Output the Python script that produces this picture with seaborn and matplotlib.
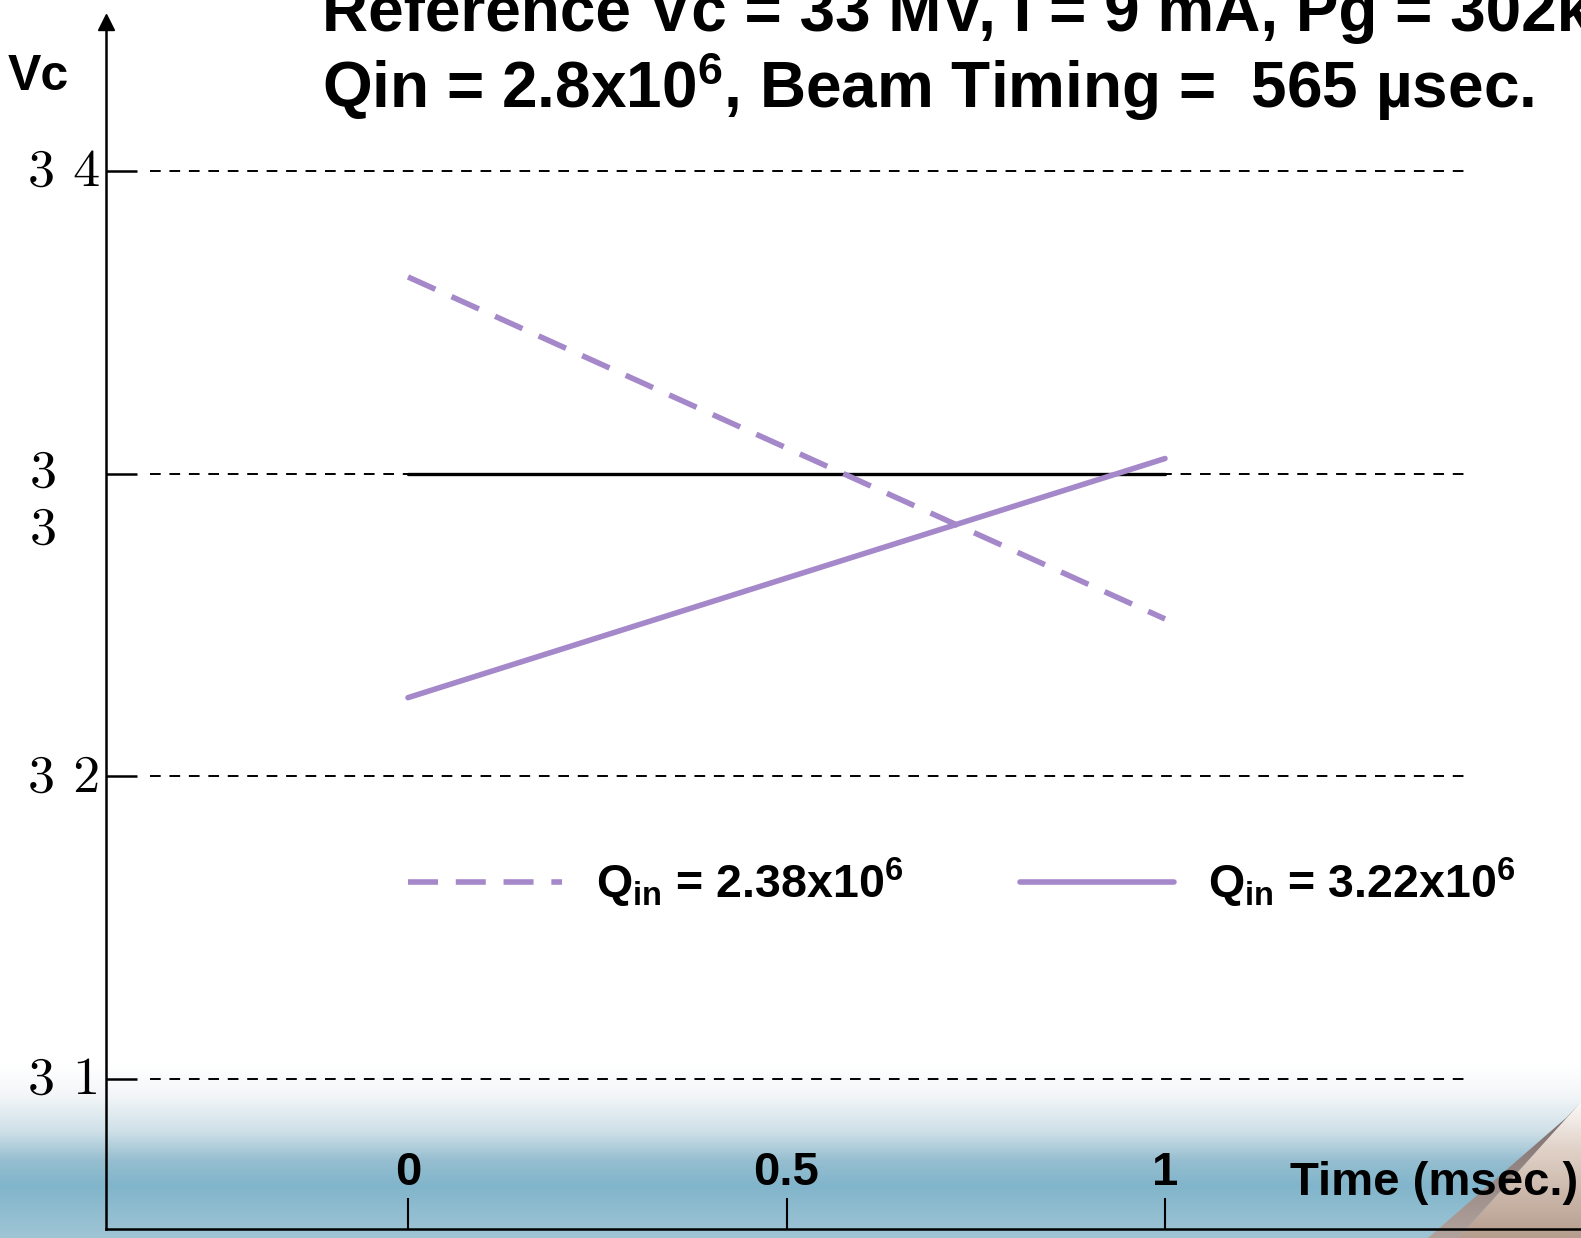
import numpy as np
import pandas as pd
import matplotlib
matplotlib.use("Agg")
import matplotlib.pyplot as plt
import seaborn as sns
from matplotlib.transforms import ScaledTranslation
from matplotlib.lines import Line2D
from matplotlib.patches import Polygon

# ---------------- data ----------------
time_ms = [0.0, 1.0]
vc_reference = [33.0, 33.0]
vc_q238 = [33.65, 32.52]
vc_q322 = [32.26, 33.05]
series_names = ["Reference", "Qin 2.38", "Qin 3.22"]
y_ticks = [31, 32, 33, 34]
y_tick_labels = ["3 1", "3 2", "3\n3", "3 4"]
x_ticks = [0, 0.5, 1]
x_tick_labels = ["0", "0.5", "1"]
legend_labels = [r"Q$_{\mathrm{in}}$ = 2.38x10$^{\mathrm{6}}$",
                 r"Q$_{\mathrm{in}}$ = 3.22x10$^{\mathrm{6}}$"]
title_line1 = "Reference Vc = 33 MV, I = 9 mA, Pg = 302kW,"
title_line2 = r"Qin = 2.8x10$^{\mathrm{6}}$, Beam Timing =  565 µsec."
y_label = "Vc"
x_label = "Time (msec.)"

sns.set_style("white")
plt.rcParams["font.family"] = ["Liberation Sans", "DejaVu Sans"]
plt.rcParams["text.color"] = "black"
plt.rcParams["mathtext.fontset"] = "custom"
plt.rcParams["mathtext.rm"] = "Liberation Sans:bold"
plt.rcParams["mathtext.it"] = "Liberation Sans:bold"
plt.rcParams["mathtext.bf"] = "Liberation Sans:bold"
plt.rcParams["mathtext.default"] = "rm"

W, H = 1581, 1238
DPI = 100
fig = plt.figure(figsize=(W / DPI, H / DPI), dpi=DPI, facecolor="white")

# ---------------- background (slide gradient + page curl) ----------------
bg = fig.add_axes([0, 0, 1, 1], zorder=-10)
bg.set_xlim(0, W)
bg.set_ylim(H, 0)
bg.axis("off")
ys = np.arange(H)
stops_y = [0, 1065, 1095, 1130, 1160, 1185, 1238]
stops_c = np.array([[255, 255, 255], [255, 255, 255], [243, 246, 248], [208, 225, 232],
                    [150, 190, 208], [129, 181, 203], [160, 197, 213]]) / 255.0
grad = np.stack([np.interp(ys, stops_y, stops_c[:, k]) for k in range(3)], axis=1)
img = np.repeat(grad[:, None, :], 2, axis=1)
bg.imshow(img, extent=[0, W, H, 0], aspect="auto", interpolation="bilinear")

# page curl
curl_y = np.linspace(0, 1, 64)
tan = np.stack([np.interp(curl_y, [0, 0.35, 1], [252, 225, 182]),
                np.interp(curl_y, [0, 0.35, 1], [250, 210, 158]),
                np.interp(curl_y, [0, 0.35, 1], [250, 200, 142])], axis=1) / 255.0
tan_img = np.repeat(tan[:, None, :], 2, axis=1)
poly_tan = Polygon([(1458, 1238), (1581, 1102), (1581, 1238)], closed=True,
                   transform=bg.transData, facecolor="none", edgecolor="none")
bg.add_patch(poly_tan)
im2 = bg.imshow(tan_img, extent=[1440, W, 1238, 1100], aspect="auto", interpolation="bilinear")
im2.set_clip_path(poly_tan)
gray = np.stack([np.interp(curl_y, [0, 1], [120, 178]),
                 np.interp(curl_y, [0, 1], [105, 162]),
                 np.interp(curl_y, [0, 1], [105, 156])], axis=1) / 255.0
gray_img = np.repeat(gray[:, None, :], 2, axis=1)
poly_band = Polygon([(1428, 1238), (1566, 1118), (1581, 1102), (1458, 1238)], closed=True,
                    transform=bg.transData, facecolor="none", edgecolor="none")
bg.add_patch(poly_band)
im3 = bg.imshow(gray_img, extent=[1420, W, 1238, 1100], aspect="auto", interpolation="bilinear")
im3.set_clip_path(poly_band)
bg.set_xlim(0, W)
bg.set_ylim(H, 0)

# ---------------- main axes ----------------
ax_left, ax_right, ax_top, ax_bottom = 106, 1581, 22, 1229
ax = fig.add_axes([ax_left / W, 1 - ax_bottom / H, (ax_right - ax_left) / W,
                   (ax_bottom - ax_top) / H])
ax.set_facecolor("none")

px_per_v = (1079 - 171) / 3.0
px_per_t = (1165 - 408) / 1.0
ax.set_ylim(31 - (ax_bottom - 1079) / px_per_v, 34 + (171 - ax_top) / px_per_v)
ax.set_xlim(0 - (408 - ax_left) / px_per_t, 1 + (ax_right - 1165) / px_per_t)

purple = "#A488CA"
df = pd.DataFrame({
    "t": time_ms * 3,
    "vc": vc_reference + vc_q238 + vc_q322,
    "series": [s for s in series_names for _ in time_ms],
})

# dashed horizontal grid lines
ax_w = ax_right - ax_left
for v in y_ticks:
    ax.axhline(v, xmin=(150 - ax_left) / ax_w, xmax=(1467 - ax_left) / ax_w,
               color="black", lw=1.4, linestyle=(0, (5.5, 4.5)), zorder=1)

dash = (0, (5.4, 3.2))
sns.lineplot(data=df[df.series == series_names[0]], x="t", y="vc", ax=ax,
             color="black", lw=2.4, zorder=3)
sns.lineplot(data=df[df.series == series_names[1]], x="t", y="vc", ax=ax,
             color=purple, lw=4.0, linestyle=dash, zorder=4)
sns.lineplot(data=df[df.series == series_names[2]], x="t", y="vc", ax=ax,
             color=purple, lw=4.0, zorder=4)

# spines / ticks
for s in ["top", "right"]:
    ax.spines[s].set_visible(False)
for s in ["left", "bottom"]:
    ax.spines[s].set_linewidth(1.8)
    ax.spines[s].set_color("black")
ax.set_yticks(y_ticks)
ax.set_xticks(x_ticks)
ax.set_yticklabels([])
ax.set_xticklabels([])
ax.tick_params(axis="y", direction="in", length=22, width=1.8, color="black", left=True)
ax.tick_params(axis="x", direction="in", length=22, width=1.5, color="black", bottom=True)
ax.set_xlabel("")
ax.set_ylabel("")
ax.plot([0], [1], marker="^", markersize=12, color="black", transform=ax.transAxes,
        clip_on=False, zorder=6)

# y tick labels (serif)
ytrans = ax.get_yaxis_transform()
for v, lab in zip(y_ticks, y_tick_labels):
    if "\n" in lab:
        off = ScaledTranslation(-(ax_left - 30) / DPI, -70 / DPI, fig.dpi_scale_trans)
        ax.text(0, v, lab, ha="left", va="baseline", fontsize=39, family="cmr10",
                linespacing=1.27, transform=ytrans + off)
    else:
        off = ScaledTranslation(-6 / DPI, -15 / DPI, fig.dpi_scale_trans)
        ax.text(0, v, lab, ha="right", va="baseline", fontsize=39, family="cmr10",
                transform=ytrans + off)

# x tick labels (bold)
xtrans = ax.get_xaxis_transform()
for v, lab in zip(x_ticks, x_tick_labels):
    off = ScaledTranslation(0, (ax_bottom - 1185) / DPI, fig.dpi_scale_trans)
    ax.text(v, 0, lab, ha="center", va="baseline", fontsize=34, fontweight="bold",
            transform=xtrans + off)

# axis labels
fig.text(1578 / W, 1 - 1195 / H, x_label, ha="right", va="baseline", fontsize=34,
         fontweight="bold")
fig.text(8 / W, 1 - 90 / H, y_label, ha="left", va="baseline", fontsize=36,
         fontweight="bold")

# titles
fig.text(322 / W, 1 - 31 / H, title_line1, ha="left", va="baseline", fontsize=46,
         fontweight="bold")
fig.text(322 / W, 1 - 108 / H, title_line2, ha="left", va="baseline", fontsize=46,
         fontweight="bold")

# legend
handles = [Line2D([], [], color=purple, lw=4.0, linestyle=dash),
           Line2D([], [], color=purple, lw=4.0)]
ax.legend(handles, legend_labels, ncol=2, loc="center left",
          bbox_to_anchor=(408 / W, 1 - 883 / H), bbox_transform=fig.transFigure,
          frameon=False, handlelength=3.3, handletextpad=0.75, columnspacing=2.5,
          borderpad=0, borderaxespad=0,
          prop={"family": "Liberation Sans", "weight": "bold", "size": 33.5})

fig.savefig("out.png", dpi=DPI, facecolor="white")
